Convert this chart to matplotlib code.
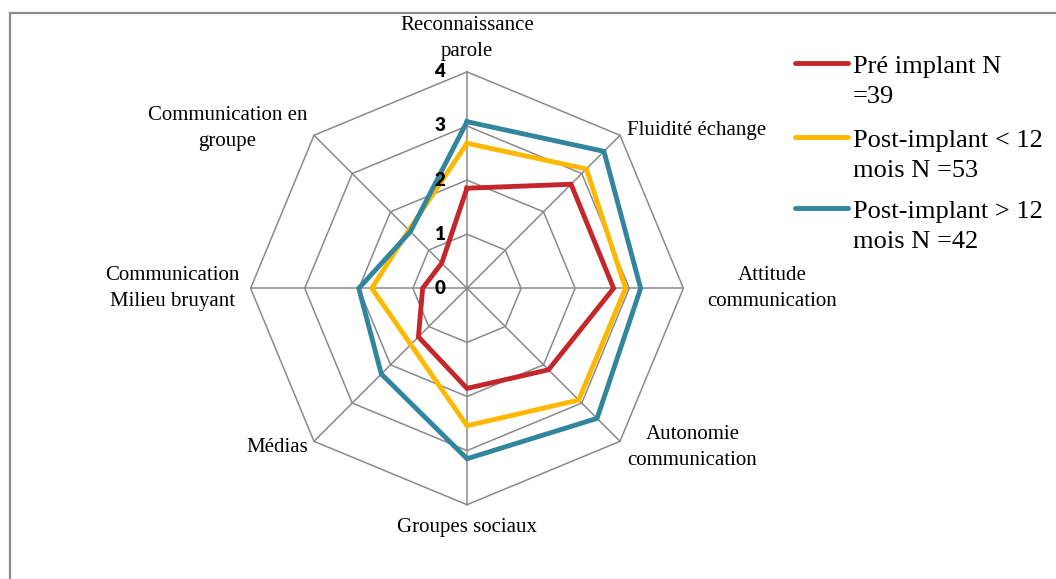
import numpy as np
import matplotlib
matplotlib.use("Agg")
import matplotlib.pyplot as plt
from matplotlib.lines import Line2D
from matplotlib.transforms import offset_copy


# axes clockwise from the top
categories = [
    "Reconnaissance\nparole",
    "Fluidité échange",
    "Attitude\ncommunication",
    "Autonomie\ncommunication",
    "Groupes sociaux",
    "Médias",
    "Communication\nMilieu bruyant",
    "Communication en\ngroupe",
]
pre_implant = [1.85, 2.72, 2.71, 2.13, 1.85, 1.27, 0.82, 0.66]
post_lt12 = [2.68, 3.12, 2.93, 2.92, 2.54, 1.47, 1.76, 1.52]
post_gt12 = [3.08, 3.58, 3.21, 3.40, 3.15, 2.24, 2.00, 1.48]
series_labels = ["Pré implant N\n=39", "Post-implant < 12\nmois N =53", "Post-implant > 12\nmois N =42"]
levels = [0, 1, 2, 3, 4]

colors = ["#C3272B", "#FFB800", "#31859C"]
grid_col = "#8A8A8A"
serif = ["Liberation Serif", "DejaVu Serif"]

# label placement (angle deg clockwise from top, radius in data units)
label_pos = [(0, 4.62), (55.5, 5.16), (90, 5.64), (125.2, 5.10),
             (180, 4.42), (230.1, 4.58), (270, 5.44), (303.7, 5.32)]

fig = plt.figure(figsize=(10.56, 5.79), dpi=100)
W, H = 1056, 579
cx, cy, R = 467, 288.3, 216.4
ax = fig.add_axes([(cx - R) / W, 1 - (cy + R) / H, 2 * R / W, 2 * R / H], projection="polar")
ax.set_theta_zero_location("N")
ax.set_theta_direction(-1)
ax.set_ylim(0, 4)
ax.set_axis_off()

n = len(categories)
theta = np.linspace(0, 2 * np.pi, n, endpoint=False)
theta_c = np.append(theta, theta[0])

# octagon grid + spokes
for lv in levels[1:]:
    ax.plot(theta_c, [lv] * (n + 1), color=grid_col, lw=1.1, zorder=1, clip_on=False)
for t in theta:
    ax.plot([t, t], [0, levels[-1]], color=grid_col, lw=1.1, zorder=1, clip_on=False)

for vals, col in zip([pre_implant, post_lt12, post_gt12], colors):
    ax.plot(theta_c, vals + vals[:1], color=col, lw=3.5, zorder=3,
            solid_joinstyle="miter", clip_on=False)

# level labels
tick_tr = offset_copy(ax.transData, fig=fig, x=-27, y=0, units="dots")
for lv in levels:
    ax.text(0, lv, str(lv), transform=tick_tr, ha="center", va="center",
            fontsize=13.5, fontweight="heavy", family=["Lato", "DejaVu Sans"], zorder=4)

# category labels
for lab, (ang, r) in zip(categories, label_pos):
    ax.text(np.deg2rad(ang), r, lab, ha="center", va="center", ma="center",
            fontsize=15, family=serif, linespacing=1.5, clip_on=False)

# legend
for i, (lab, col) in enumerate(zip(series_labels, colors)):
    ybase = [73.3, 146.7, 218.3][i]
    fig.add_artist(Line2D([795 / W, 848 / W], [1 - (ybase - 10) / H] * 2,
                          color=col, lw=3.5, solid_capstyle="round"))
    fig.text(853 / W, 1 - ybase / H, lab.split("\n")[0], ha="left", va="baseline",
             fontsize=19, family=serif)
    fig.text(853 / W, 1 - (ybase + 30) / H, lab.split("\n")[1], ha="left", va="baseline",
             fontsize=19, family=serif)

# outer frame (top and left edges visible)
fig.add_artist(Line2D([10 / W, 1.0], [1 - 13 / H] * 2, color="#8C8C8C", lw=1.6))
fig.add_artist(Line2D([10 / W] * 2, [1 - 13 / H, 0.0], color="#8C8C8C", lw=1.6))

fig.savefig("out.png", dpi=100, facecolor="white")
